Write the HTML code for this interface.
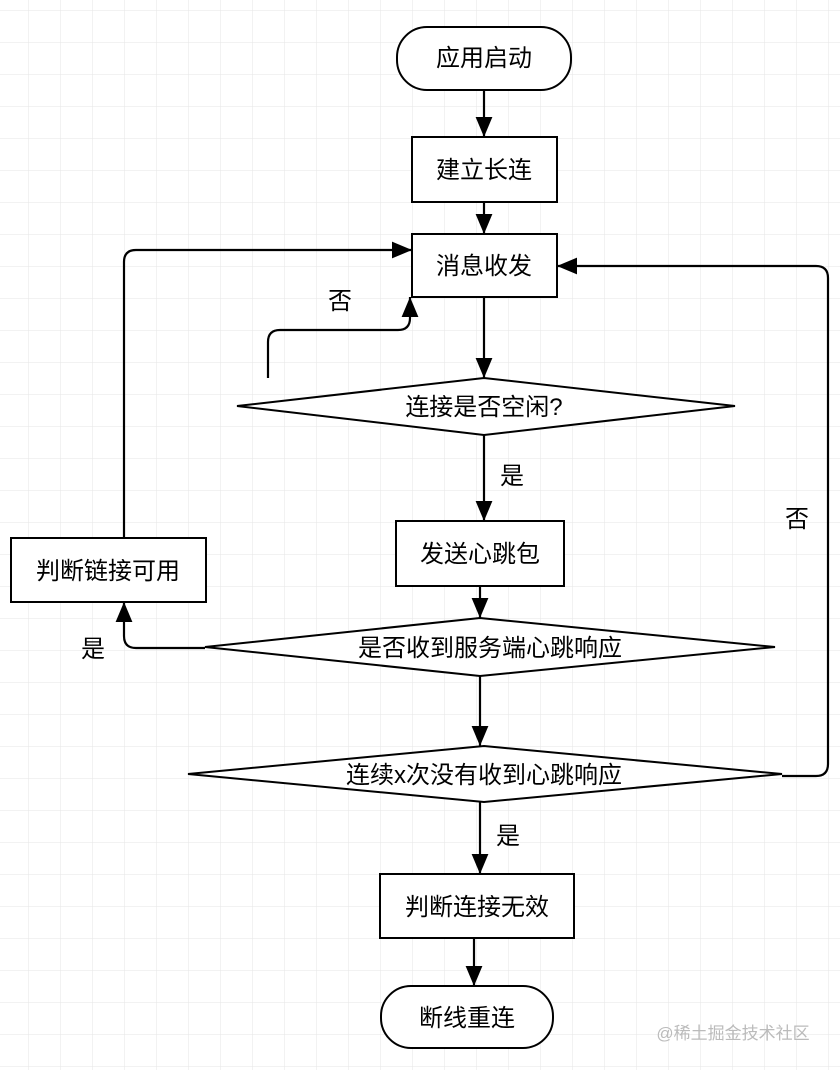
<!DOCTYPE html>
<html><head><meta charset="utf-8"><style>
html,body{margin:0;padding:0;background:#fff;}
svg{display:block}
text{font-family:"Liberation Sans","Noto Sans CJK SC",sans-serif;fill:#000;}
</style></head><body>
<svg width="840" height="1070" viewBox="0 0 840 1070" xmlns="http://www.w3.org/2000/svg">
<defs>
<pattern id="g" x="28" y="10" width="32" height="32" patternUnits="userSpaceOnUse">
<path d="M0 0H32M0 0V32" stroke="#e6e6e6" stroke-width="1" fill="none"/>
</pattern>
<marker id="a" viewBox="0 0 10 10" refX="10" refY="5" markerWidth="20" markerHeight="20" orient="auto" markerUnits="userSpaceOnUse">
<path d="M0 0.8L10 5L0 9.2z" fill="#000"/>
</marker>
</defs>
<rect width="840" height="1070" fill="url(#g)"/>
<g fill="#fff" stroke="#000" stroke-width="2">
<rect x="397" y="27" width="174" height="63" rx="30"/>
<rect x="412" y="137" width="145" height="65"/>
<rect x="412" y="234" width="145" height="63"/>
<polygon points="237,406 484,378 735,406 484,435"/>
<rect x="396" y="521" width="168" height="65"/>
<polygon points="205,647 480,618 775,647 480,676"/>
<polygon points="188,774 484,746 782,774 484,802"/>
<rect x="380" y="874" width="194" height="64"/>
<rect x="381" y="986" width="172" height="62" rx="30"/>
<rect x="11" y="538" width="195" height="64"/>
</g>
<g fill="none" stroke="#000" stroke-width="2.2" marker-end="url(#a)">
<path d="M484 90V137"/>
<path d="M484 202V234"/>
<path d="M484 297V378"/>
<path d="M484 435V521"/>
<path d="M480 586V618"/>
<path d="M480 676V746"/>
<path d="M480 802V874"/>
<path d="M474 938V986"/>
<path d="M205 648H136Q124 648 124 636V602"/>
<path d="M124 538V262Q124 250 136 250H412"/>
<path d="M268 378V342Q268 330 280 330H398Q410 330 410 318V297"/>
<path d="M782 776H816Q828 776 828 764V278Q828 266 816 266H557"/>
</g>
<g font-size="24" text-anchor="middle">
<text x="484" y="66">应用启动</text>
<text x="484" y="178">建立长连</text>
<text x="484" y="274">消息收发</text>
<text x="484" y="415">连接是否空闲?</text>
<text x="480" y="562">发送心跳包</text>
<text x="490" y="656">是否收到服务端心跳响应</text>
<text x="484" y="783">连续x次没有收到心跳响应</text>
<text x="477" y="915">判断连接无效</text>
<text x="467" y="1026">断线重连</text>
<text x="108" y="579">判断链接可用</text>
<text x="512" y="484">是</text>
<text x="93" y="657">是</text>
<text x="508" y="844">是</text>
<text x="340" y="309">否</text>
<text x="797" y="527">否</text>
</g>
<text x="733" y="1039" font-size="17" text-anchor="middle" style="fill:#bbb">@稀土掘金技术社区</text>
</svg>
</body></html>
